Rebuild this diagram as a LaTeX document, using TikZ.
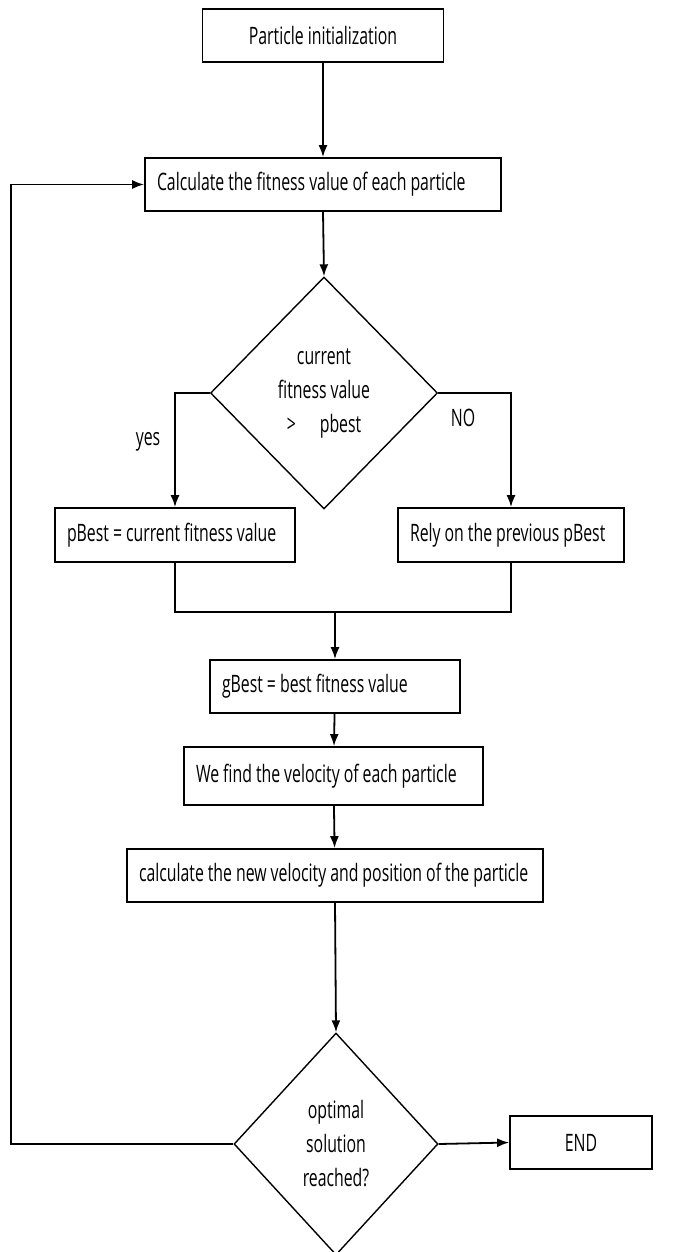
\documentclass[tikz,border=0pt]{standalone}
\usepackage{fontspec}
\setmainfont[FakeStretch=0.66]{Open Sans}
\usetikzlibrary{shapes.geometric,arrows.meta,positioning,calc}
\newcommand\tightspace{\spaceskip 2pt plus 1pt\relax}

\begin{document}
\begin{tikzpicture}[x=0.5pt, y=-0.5pt, >={Latex[length=6pt,width=4.5pt]},
    every path/.style={line width=0.9pt},
    txt/.style={font=\fontsize{12}{17}\selectfont},
    box/.style={draw, txt, minimum height=26.5pt, inner xsep=6pt, text width=#1,
        execute at begin node={\hbox\bgroup\tightspace}, execute at end node={\egroup}},
    test/.style={draw, diamond, txt, line width=0.7pt, inner sep=0pt, align=center}]
    \useasboundingbox (0,0) rectangle (680,1252);
    % process boxes
    \node[draw, txt, minimum width=120.5pt, minimum height=26.5pt] (init) at (323,35.5) {Particle initialization};
    \node[box=166pt] (fit) at (323,184.5) {Calculate the fitness value of each particle};
    \node[test, minimum width=113.5pt, minimum height=116pt] (cmp) at (324,393) {current\\fitness value\\>\quad pbest};
    \node[box=108pt, minimum height=27pt] (upd) at (175,535) {pBest = current fitness value};
    \node[box=101pt, minimum height=27pt] (keep) at (511,535) {Rely on the previous pBest};
    \node[box=113pt] (gbest) at (335,686.5) {gBest = best fitness value};
    \node[box=137.5pt, minimum height=29pt] (vel) at (333.5,776) {We find the velocity of each particle};
    \node[box=196pt] (move) at (335,875.5) {calculate the new velocity and position of the particle};
    \node[test, minimum width=102pt, minimum height=111pt] (stop) at (336,1144) {optimal\\solution\\reached?};
    \node[draw, txt, minimum width=71pt, minimum height=26.5pt] (fin) at (581,1142.5) {END};
    % branch labels
    \node[txt] (yes) at (148,442) {yes};
    \node[txt] (no) at (463,418) {NO};
    \coordinate (join) at (335,612);
    \coordinate (loop) at (11,1144);
    % connectors
    \draw[->] (init) -- (fit);
    \draw[->] (fit.south) -- (cmp.north);
    \draw[->] (cmp.west) -| (upd.north);
    \draw[->] (cmp.east) -| (keep.north);
    \draw (upd.south) |- (join) -| (keep.south);
    \draw[->] (join) -- (gbest.north);
    \draw[->] (gbest) -- (vel);
    \draw[->] (vel) -- (move);
    \draw[->] (move.south) -- (stop.north);
    \draw[->] (stop.east) -- (fin.west);
    \draw[->] (stop.west) -- (loop) |- (fit.west);
\end{tikzpicture}
\end{document}
